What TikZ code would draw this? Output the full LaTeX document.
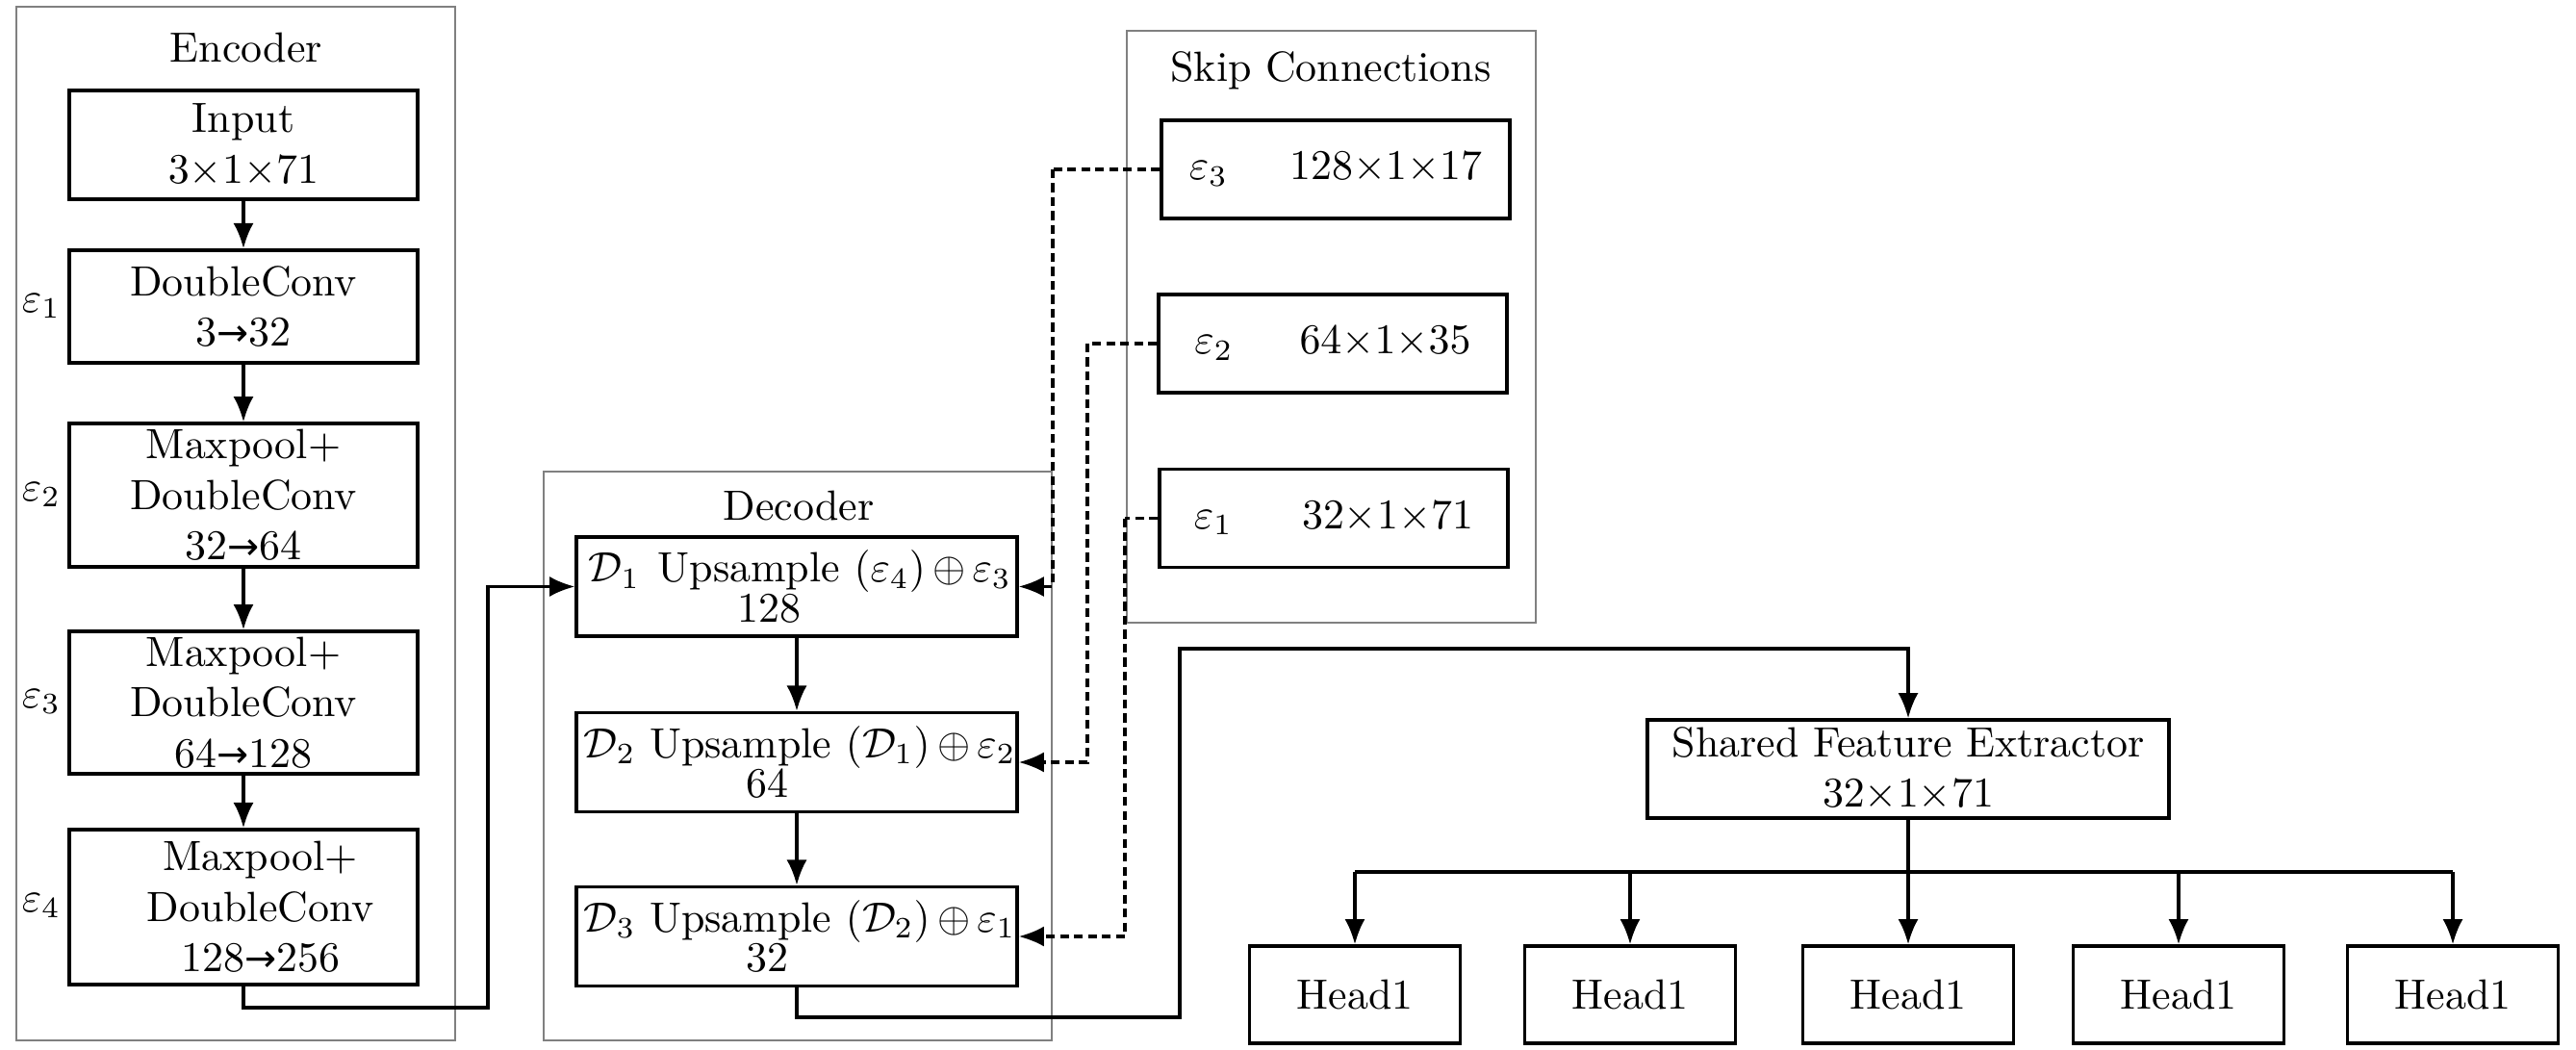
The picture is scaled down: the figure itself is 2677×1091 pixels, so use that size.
\documentclass[tikz,border=0pt]{standalone}
\usepackage{fontspec}
\newfontfamily\dejavu{DejaVu Sans}
\usetikzlibrary{arrows.meta}
\newcommand{\myarr}{{\dejavu\fontsize{9}{10}\selectfont →}}
\tikzset{
  box/.style={draw, line width=0.75pt, align=center, inner xsep=2pt, inner ysep=0.5pt},
  ebox/.style={box, minimum width=82.5pt},
  dbox/.style={box, inner xsep=0.3pt, minimum width=104.3pt, minimum height=23.5pt},
  sbox/.style={box, minimum width=82.5pt, minimum height=23.2pt},
  hbox/.style={box, minimum width=49.9pt, minimum height=23pt},
  group/.style={draw=gray, line width=0.6pt},
  arr/.style={line width=0.75pt, -{Latex[length=6pt,width=4.8pt]}},
  darr/.style={arr, dash pattern=on 2.1pt off 1.2pt},
  dline/.style={line width=0.75pt, dash pattern=on 2.1pt off 1.2pt},
  line/.style={line width=0.75pt},
}
\begin{document}
\begin{tikzpicture}[x=0.2278pt, y=-0.2278pt]
\useasboundingbox (0,0) rectangle (2677,1091);
% containers
\draw[group] (17,7) rectangle (473,1081);
\draw[group] (565,490) rectangle (1093,1081);
\draw[group] (1171,32) rectangle (1596,647);
\node (tenc) at (256,50) {Encoder};
\node (tdec) at (830,526) {Decoder};
\node (tskip) at (1383,73) {Skip Connections};
% encoder
\node[ebox, minimum height=25.7pt] (E0) at (253,150.5) {Input\\$3{\times}1{\times}71$};
\node[ebox, minimum height=26.7pt] (E1) at (253,318.5) {DoubleConv\\3\myarr32};
\node[ebox, minimum height=33.9pt] (E2) at (253,514.5) {Maxpool+\\DoubleConv\\32\myarr64};
\node[ebox, minimum height=33.7pt] (E3) at (253,730) {Maxpool+\\DoubleConv\\64\myarr128};
\node[ebox, minimum height=36.7pt] (E4) at (253,942.5) {\hspace*{8pt}Maxpool+\\\hspace*{8pt}DoubleConv\\\hspace*{8pt}128\myarr256};
\node (l1) at (43,318) {$\varepsilon_1$};
\node (l2) at (43,514) {$\varepsilon_2$};
\node (l3) at (43,729) {$\varepsilon_3$};
\node (l4) at (43,941) {$\varepsilon_4$};
\draw[arr] (E0) -- (E1);
\draw[arr] (E1) -- (E2);
\draw[arr] (E2) -- (E3);
\draw[arr] (E3) -- (E4);
% decoder
\node[dbox] (D1) at (828,609.5) {\hspace*{1.5pt}$\mathcal{D}_1$\hspace{4.2pt}Upsample $(\varepsilon_4)\,{\oplus}\,\varepsilon_3$\\[-2.5pt]128\hspace*{13pt}};
\node[dbox] (D2) at (828,792) {\hspace*{1.5pt}$\mathcal{D}_2$ Upsample $(\mathcal{D}_1)\,{\oplus}\,\varepsilon_2$\\[-2.5pt]64\hspace*{14pt}};
\node[dbox] (D3) at (828,973) {\hspace*{1.5pt}$\mathcal{D}_3$ Upsample $(\mathcal{D}_2)\,{\oplus}\,\varepsilon_1$\\[-2.5pt]32\hspace*{14pt}};
\draw[arr] (D1) -- (D2);
\draw[arr] (D2) -- (D3);
% skip
\node[sbox] (S3) at (1388,176) {$\varepsilon_3$\hspace{14.6pt}$128{\times}1{\times}17$};
\node[sbox] (S2) at (1385,357) {$\varepsilon_2$\hspace{15.7pt}$64{\times}1{\times}35$};
\node[sbox] (S1) at (1386,538.5) {$\varepsilon_1$\hspace{16.4pt}$32{\times}1{\times}71$};
\coordinate (k3) at (1094,176);
\coordinate (k2) at (1130,357);
\coordinate (k1) at (1169,538.5);
\draw[dline] (S3.west) -- (k3);
\draw[darr] (k3) |- (D1.east);
\draw[dline] (S2.west) -- (k2);
\draw[darr] (k2) |- (D2.east);
\draw[dline] (S1.west) -- (k1);
\draw[darr] (k1) |- (D3.east);
% encoder to decoder
\coordinate (c1) at (507,1047);
\draw[arr] (E4.south) |- (c1) |- (D1.west);
% decoder to shared
\node[box, minimum width=123.5pt, minimum height=23.2pt] (SF) at (1983,799) {Shared Feature Extractor\\$32{\times}1{\times}71$};
\coordinate (c2) at (1226,1057);
\coordinate (c3) at (1226,674);
\draw[arr] (D3.south) |- (c2) -- (c3) -| (SF.north);
% heads
\node[hbox] (H1) at (1408,1033.5) {Head1};
\node[hbox] (H2) at (1694,1033.5) {Head1};
\node[hbox] (H3) at (1983,1033.5) {Head1};
\node[hbox] (H4) at (2264,1033.5) {Head1};
\node[hbox] (H5) at (2549,1033.5) {Head1};
\coordinate (br) at (1983,906);
\draw[line] (SF.south) -- (br);
\draw[line] (H1.north |- br) -- (H5.north |- br);
\foreach \h in {H1,H2,H3,H4,H5} \draw[arr] (\h.north |- br) -- (\h.north);
\end{tikzpicture}
\end{document}
